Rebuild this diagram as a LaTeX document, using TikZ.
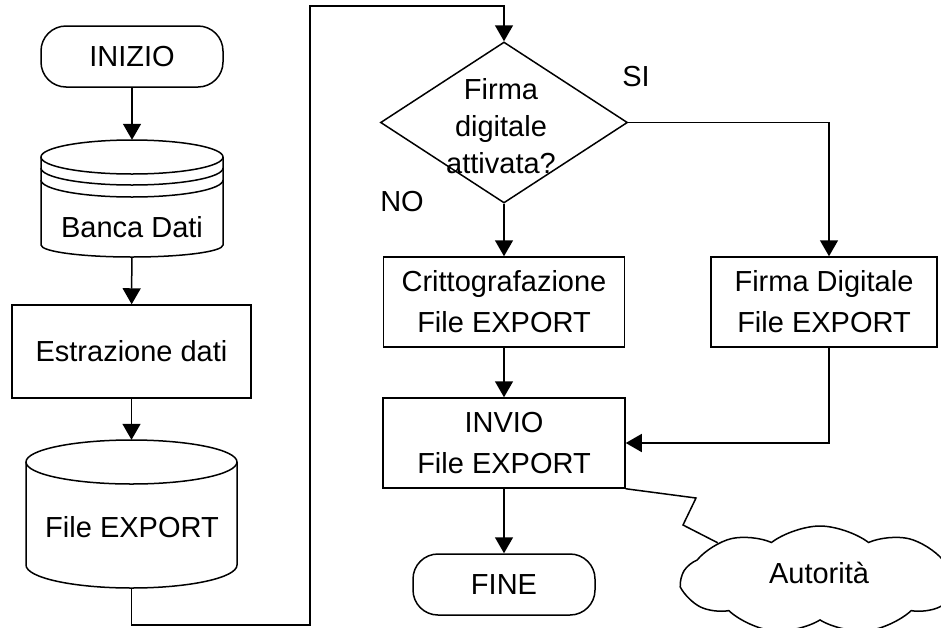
\documentclass[tikz,border=0pt]{standalone}
\usepackage{fontspec}
\setmainfont{Liberation Sans}
\usetikzlibrary{shapes.geometric, shapes.symbols, arrows.meta}
\newcommand*{\lw}{1.5pt}

\begin{document}
\begin{tikzpicture}[
   x=1pt, y=-1pt,
   font=\fontsize{29}{41}\selectfont,
   termrec/.style={rectangle, draw=black, rounded corners=25pt, line width=\lw,
                   inner sep=0pt, minimum width=182pt, minimum height=61pt},
   procrec/.style={rectangle, draw=black, line width=\lw, align=center,
                   inner sep=0pt, minimum height=90pt},
   dbbox/.style={rectangle, inner sep=0pt},
   decdiam/.style={diamond, draw=black, line width=\lw, inner sep=0pt,
                   minimum width=247pt, minimum height=161pt},
   cloudell/.style={cloud, draw=black, line width=\lw, cloud puffs=9, cloud puff arc=75,
                    cloud ignores aspect, minimum width=276pt, minimum height=108pt},
   flow/.style={-{Triangle[length=16pt, width=18pt]}, line width=\lw}
  ]

  % Page frame
  \useasboundingbox (0, 0) rectangle (941, 627);
  \clip (0, 0) rectangle (941, 627);

  \node (A) at (132, 56.5) [termrec] {INIZIO};
  \node (B) at (132, 198.5) [dbbox, minimum width=182pt, minimum height=117pt] {};
  \node (C) at (131.5, 351.5) [procrec, minimum width=239pt, minimum height=93pt] {Estrazione dati};
  \node (D) at (131.5, 514) [dbbox, minimum width=211pt, minimum height=148pt] {};
  \node (E) at (504, 122.5) [decdiam] {};
  \node (F) at (504, 302) [procrec, minimum width=241pt] {Crittografazione\\File EXPORT};
  \node (G) at (824, 302) [procrec, minimum width=226pt] {Firma Digitale\\File EXPORT};
  \node (H) at (504, 443) [procrec, minimum width=242pt] {INVIO\\File EXPORT};
  \node (I) at (504, 584.5) [termrec] {FINE};
  \node (J) at (820, 580) [cloudell] {};

  \node (Btxt) at (132, 227) {Banca Dati};
  \node (Dtxt) at (132, 527) {File EXPORT};
  \node (Etxt) at (501, 126) [align=center, font=\fontsize{29}{37}\selectfont] {Firma\\digitale\\attivata?};
  \node (Jtxt) at (819, 573) {Autorità};
  \node (si) at (636, 77) {SI};
  \node (no) at (402, 202) {NO};

  % Banca Dati
  \draw[line width=\lw] (132, 157) ellipse [x radius=91, y radius=17];
  \draw[line width=\lw] (41, 157) -- (41, 245) arc [start angle=180, end angle=0, x radius=91, y radius=12] -- (223, 157);
  \foreach \s in {11, 23} {
    \draw[line width=\lw] (41, 157 + \s) arc [start angle=180, end angle=0, x radius=91, y radius=17];
  }

  % File EXPORT
  \draw[line width=\lw] (131.5, 462) ellipse [x radius=105.5, y radius=22];
  \draw[line width=\lw] (26, 462) -- (26, 565) arc [start angle=180, end angle=0, x radius=105.5, y radius=23] -- (237, 462);

  \foreach \B/\E in {A/B, B/C, C/D, E/F, F/H, H/I} {
    \draw[flow] (\B) -- (\E);
  }

  \coordinate (bend1) at (310, 625);
  \coordinate (bend2) at (310, 6);
  \draw[flow] (D.south) |- (bend1) -- (bend2) -| (E.north);
  \draw[flow] (E.east) -| ([xshift=5pt]G.north);
  \draw[flow] ([xshift=5pt]G.south) |- (H.east);

  \coordinate (zig1) at (696, 498);
  \coordinate (zig2) at (683, 525);
  \draw[line width=\lw] (H.south east) -- (zig1) -- (zig2) -- (J.160);

\end{tikzpicture}
\end{document}
